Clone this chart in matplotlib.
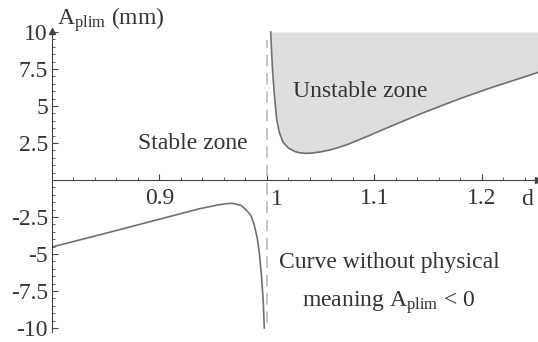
import matplotlib.pyplot as plt
from matplotlib.ticker import FixedLocator, FixedFormatter, MultipleLocator

plt.rcParams["font.family"] = ["Liberation Serif", "DejaVu Serif"]
plt.rcParams["mathtext.fontset"] = "custom"
plt.rcParams["mathtext.rm"] = "Liberation Serif"
plt.rcParams["mathtext.it"] = "Liberation Serif:italic"

# upper branch (d > 1), bounding the unstable zone
d_upper = [1.0034, 1.0050, 1.0068, 1.0090, 1.0115, 1.015, 1.020, 1.026, 1.030,
           1.036, 1.042, 1.050, 1.058, 1.066, 1.075, 1.085, 1.095, 1.100, 1.115, 1.130,
           1.145, 1.161, 1.176, 1.192, 1.207, 1.223, 1.238, 1.2521]
a_upper = [10.0, 7.6, 5.8, 4.1, 3.2, 2.55, 2.15, 1.92, 1.84,
           1.8, 1.82, 1.9, 2.02, 2.18, 2.4, 2.7, 3.0, 3.16, 3.62, 4.08,
           4.53, 4.98, 5.4, 5.82, 6.2, 6.58, 6.93, 7.27]

# lower branch (d < 1), no physical meaning
d_lower = [0.8, 0.85, 0.9, 0.938, 0.955, 0.962, 0.968, 0.976, 0.981, 0.985,
           0.988, 0.991, 0.993, 0.995, 0.9965, 0.9975]
a_lower = [-4.53, -3.6, -2.65, -1.93, -1.68, -1.6, -1.58, -1.72, -2.05, -2.4,
           -3.0, -3.95, -5.0, -6.6, -8.2, -10.0]

y_ticks = [-10, -7.5, -5, -2.5, 2.5, 5, 7.5, 10]
y_labels = ["-10", "-7.5", "-5", "-2.5", "2.5", "5", "7.5", "10"]
x_ticks = [0.9, 1.0, 1.1, 1.2]
x_labels = ["0.9", "", "1.1", "1.2"]

txt = "#333333"
axc = "#444444"
curve = "#707070"

fig = plt.figure(figsize=(5.38, 3.42), dpi=100)
ax = fig.add_axes([52 / 538, 9.6 / 342, 486 / 538, 301.9 / 342])
ax.set_xlim(0.8, 1.2521)
ax.set_ylim(-10.3, 10.1)

ax.fill_between(d_upper, a_upper, 10, color="#dedede", lw=0)
ax.plot(d_upper, a_upper, color=curve, lw=1.2)
ax.plot(d_lower, a_lower, color=curve, lw=1.2)
ax.axvline(1.0, ymin=0.03, ymax=0.97, color="#bbbbbb", lw=1.2, ls=(0, (7, 4)))

for s in ["top", "right"]:
    ax.spines[s].set_visible(False)
ax.spines["bottom"].set_position(("data", 0))
ax.spines["left"].set_position(("data", 0.8))
for s in ["bottom", "left"]:
    ax.spines[s].set_color(axc)
    ax.spines[s].set_linewidth(0.8)
ax.plot(1, 0, ">", color=axc, ms=4, transform=ax.get_yaxis_transform(), clip_on=False)
ax.plot(0.8, 10.1, "^", color=axc, ms=4, clip_on=False)

ax.yaxis.set_major_locator(FixedLocator(y_ticks))
ax.yaxis.set_major_formatter(FixedFormatter(y_labels))
ax.yaxis.set_minor_locator(MultipleLocator(0.5))
ax.xaxis.set_major_locator(FixedLocator(x_ticks))
ax.xaxis.set_major_formatter(FixedFormatter(x_labels))
ax.xaxis.set_minor_locator(MultipleLocator(0.02))
ax.tick_params(which="both", direction="in", colors=axc, labelcolor=txt, labelsize=17)
ax.tick_params(which="major", length=4, width=0.8)
ax.tick_params(which="minor", length=2, width=0.6)
ax.tick_params(axis="x", pad=6)
ax.tick_params(axis="y", pad=3)

# the "1" label sits just right of the dashed asymptote
ax.text(1.0088, -1.69, "1", fontsize=17, color=txt, ha="center", va="baseline")
ax.text(0.8044, 10.47, r"$\mathrm{A_{plim}}$ (mm)", fontsize=17, color=txt,
        ha="left", va="baseline", clip_on=False)
ax.text(1.2419, -1.69, "d", fontsize=17, color=txt, ha="center", va="baseline")
ax.text(0.88, 2.09, "Stable zone", fontsize=17, color=txt, ha="left", va="baseline")
ax.text(1.0242, 5.63, "Unstable zone", fontsize=17, color=txt, ha="left", va="baseline")
ax.text(1.1135, -5.95, "Curve without physical", fontsize=17, color=txt,
        ha="center", va="baseline")
ax.text(1.1135, -8.58, r"meaning $\mathrm{A_{plim}}$ < 0", fontsize=17, color=txt,
        ha="center", va="baseline")

fig.savefig("out.png", dpi=100)
